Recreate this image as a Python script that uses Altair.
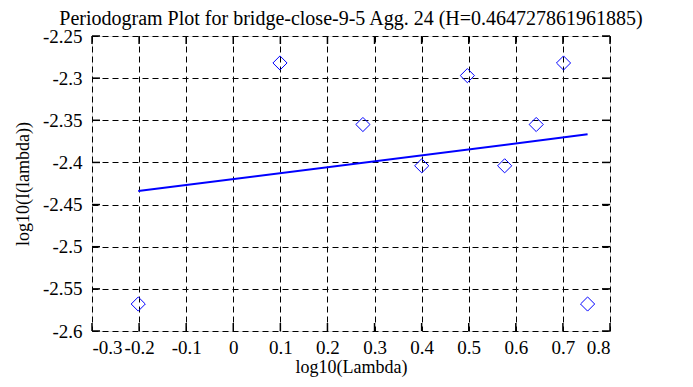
import altair as alt
import pandas as pd

# data
log_lambda = [-0.2018, 0.0992, 0.2753, 0.4002, 0.4971, 0.5763, 0.6433, 0.7013, 0.7524]
log_I = [-2.568, -2.282, -2.355, -2.404, -2.297, -2.404, -2.355, -2.282, -2.568]
fit_x = [-0.2018, 0.7524]
fit_y = [-2.4340, -2.3667]
x_ticks = [-0.3, -0.2, -0.1, 0, 0.1, 0.2, 0.3, 0.4, 0.5, 0.6, 0.7, 0.8]
y_ticks = [-2.25, -2.3, -2.35, -2.4, -2.45, -2.5, -2.55, -2.6]

W, H = 518, 295
FONT = "Liberation Serif"

pts = pd.DataFrame({"x": log_lambda, "y": log_I})
fit = pd.DataFrame({"x": fit_x, "y": fit_y})
xt = pd.DataFrame({"x": x_ticks})
yt = pd.DataFrame({"y": y_ticks})

xscale = alt.Scale(domain=[-0.3, 0.8], nice=False, zero=False)
yscale = alt.Scale(domain=[-2.6, -2.25], nice=False, zero=False)

xaxis = alt.Axis(values=x_ticks, title="log10(Lambda)", grid=True, gridDash=[6, 4],
                 gridColor="black", gridOpacity=1, gridWidth=1, ticks=False, domain=False,
                 labelExpr="toString(datum.value)", labelFont=FONT, labelFontSize=19,
                 labelColor="black", labelPadding=7, titleFont=FONT, titleFontSize=18,
                 titleFontWeight="normal", titleColor="black", titlePadding=1)
yaxis = alt.Axis(values=y_ticks, title="log10(I(lambda))", grid=True, gridDash=[6, 4],
                 gridColor="black", gridOpacity=1, gridWidth=1, ticks=False, domain=False,
                 labelExpr="toString(datum.value)", labelFont=FONT, labelFontSize=19,
                 labelColor="black", labelPadding=10, titleFont=FONT, titleFontSize=18,
                 titleFontWeight="normal", titleColor="black", titlePadding=10)

base_pts = alt.Chart(pts).mark_point(shape="diamond", filled=False, color="#0000ff",
                                     size=200, strokeWidth=1, opacity=1).encode(
    x=alt.X("x:Q", scale=xscale, axis=xaxis),
    y=alt.Y("y:Q", scale=yscale, axis=yaxis),
)

line = alt.Chart(fit).mark_line(color="#0000ff", strokeWidth=2).encode(
    x=alt.X("x:Q", scale=xscale),
    y=alt.Y("y:Q", scale=yscale),
)

tk = 8
xt_bot = alt.Chart(xt).mark_rule(color="black", strokeWidth=1.5).encode(
    x=alt.X("x:Q", scale=xscale), y=alt.value(H), y2=alt.value(H - tk))
xt_top = alt.Chart(xt).mark_rule(color="black", strokeWidth=1.5).encode(
    x=alt.X("x:Q", scale=xscale), y=alt.value(0), y2=alt.value(tk))
yt_left = alt.Chart(yt).mark_rule(color="black", strokeWidth=1.5).encode(
    y=alt.Y("y:Q", scale=yscale), x=alt.value(0), x2=alt.value(tk))
yt_right = alt.Chart(yt).mark_rule(color="black", strokeWidth=1.5).encode(
    y=alt.Y("y:Q", scale=yscale), x=alt.value(W), x2=alt.value(W - tk))

chart = alt.layer(base_pts, line, xt_bot, xt_top, yt_left, yt_right).properties(
    width=W, height=H,
    title=alt.TitleParams("Periodogram Plot for bridge-close-9-5 Agg. 24 (H=0.464727861961885)",
                          font=FONT, fontSize=20, fontWeight="normal", color="black",
                          anchor="middle", offset=-2),
    autosize=alt.AutoSizeParams(type="none"),
    padding={"left": 84, "top": 28, "right": 75, "bottom": 48},
).configure_view(stroke="black", strokeWidth=2.5).configure(background="white")

chart.save("out.html", embed_options={"renderer": "svg", "actions": False})
